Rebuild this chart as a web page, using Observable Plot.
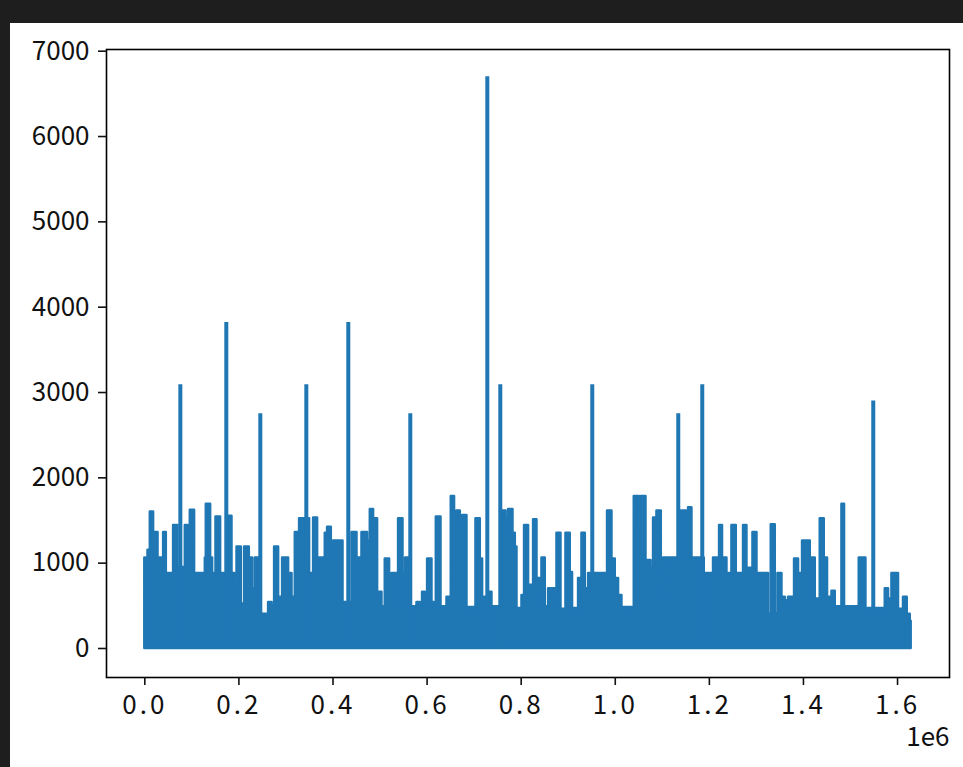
<!DOCTYPE html>
<html><head><meta charset="utf-8">
<script src="https://cdn.jsdelivr.net/npm/d3@7"></script>
<script src="https://cdn.jsdelivr.net/npm/@observablehq/plot@0.6"></script>
<style>
html,body{margin:0;padding:0;background:#1e1e1e;width:963px;height:767px;overflow:hidden}
#fig{position:absolute;left:10px;top:23px;width:953px;height:744px;background:#fff}
</style></head><body><div id="fig"></div>
<script>
// Upper envelope of the dense series (segment start x, envelope value)
const bandX = [0,2000,6800,11700,18700,28100,40000,45700,61200,70600,86100,91800,96700,105800,128600,130700,139900,144100,151300,161100,176800,185300,190900,196000,205100,212100,222100,229100,234900,243400,263100,270400,275900,284400,292900,305600,312900,319900,329000,350300,358800,367300,383600,388500,396400,401300,421300,440400,451000,461600,473500,479300,486300,494800,504100,511100,520300,525400,536000,539400,548800,554300,560700,578500,585500,590400,596200,601100,610400,615300,619600,629600,642300,651400,658400,663600,670600,675400,684800,703900,713100,718000,722200,732200,737900,759200,767700,773200,782600,787500,791100,801700,807200,815700,826400,833600,844200,851200,858200,872500,876100,884600,895200,904300,909200,922000,929200,936300,943300,983600,993000,1000000,1007000,1014200,1040400,1051600,1055300,1065300,1075900,1081400,1088600,1097800,1102700,1139600,1150900,1155800,1163000,1189200,1208900,1221700,1228000,1237400,1248000,1257200,1272700,1279900,1292700,1301200,1325800,1331600,1340100,1345800,1354300,1361300,1368300,1381100,1389600,1398100,1414500,1425100,1435700,1444200,1451200,1460600,1467600,1481800,1487400,1518600,1532800,1573900,1580900,1588100,1602100,1612700,1620600,1627000,1629000];
const bandTop = [1060,880,1150,1600,1360,1060,1360,880,1440,950,1440,940,1620,880,1060,1690,1060,880,1540,880,1550,880,700,1190,520,1190,1060,700,1060,400,540,500,1190,600,1060,880,600,1360,1520,880,1530,1060,1350,1420,1060,1260,540,1360,1060,1360,1260,1630,1520,660,490,1050,600,880,490,1520,880,1060,490,540,490,660,490,1050,540,490,1540,490,600,1780,1420,1610,1480,1560,480,1520,1050,490,600,660,490,1610,1520,1630,1350,1190,470,620,1440,740,1510,820,1060,490,700,490,1350,460,1350,890,470,820,1350,700,880,1610,1050,820,620,480,1780,1380,1780,1030,940,1530,1610,600,1060,1610,1060,1650,1060,880,1060,1440,1060,880,1440,880,1440,940,1360,880,400,1450,410,880,600,560,600,1050,880,1260,1060,580,1520,1060,600,670,490,1690,490,1060,470,700,580,880,460,600,400,320,320];
// Tall isolated spikes
const spikeX = [75500,173200,245500,343300,432500,564300,728000,755600,951100,1133900,1184900,1548400];
const spikeTop = [3090,3820,2750,3090,3820,2750,6700,3090,3090,2750,3090,2900];
// Axis ticks
const xTicks = [0,200000,400000,600000,800000,1000000,1200000,1400000,1600000];
const xTickLabels = ["0.0","0.2","0.4","0.6","0.8","1.0","1.2","1.4","1.6"];
const yTicks = [0,1000,2000,3000,4000,5000,6000,7000];
const blue = "#1f77b4";

const band = bandX.map((x, i) => ({x, top: bandTop[i]}));
const spikes = spikeX.map((x, i) => ({x, top: spikeTop[i]}));

const chart = Plot.plot({
  width: 953, height: 744,
  marginLeft: 96, marginTop: 26, marginRight: 14, marginBottom: 90,
  style: {fontFamily: "'Noto Sans CJK SC', sans-serif", fontSize: "26px", color: "#111", background: "white"},
  x: {domain: [-81450, 1710450], label: null},
  y: {domain: [-340, 7020], label: null},
  marks: [
    Plot.areaY(band, {x: "x", y1: 0, y2: "top", curve: "step-after", fill: blue, stroke: blue, strokeWidth: 2.5}),
    Plot.ruleX(spikes, {x: "x", y1: 0, y2: "top", stroke: blue, strokeWidth: 4}),
    Plot.frame({stroke: "black", strokeWidth: 1.6}),
    Plot.axisX({ticks: xTicks, tickFormat: d => xTickLabels[xTicks.indexOf(d)], tickSize: 8, tickPadding: 10, label: null, strokeWidth: 1.6}),
    Plot.axisY({ticks: yTicks, tickFormat: d => String(d), tickSize: 8, tickPadding: 9, label: null, strokeWidth: 1.6}),
    Plot.text(["1e6"], {frameAnchor: "bottom-right", dy: 68, textAnchor: "end", fill: "#111"})
  ]
});
d3.select(chart).selectAll('g[aria-label="x-axis tick label"] text').style("letter-spacing", "3px");
document.getElementById("fig").appendChild(chart);
</script></body></html>
